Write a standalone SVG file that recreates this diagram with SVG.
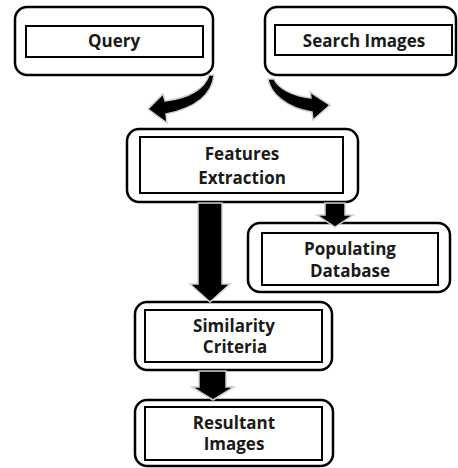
<svg xmlns="http://www.w3.org/2000/svg" width="458" height="468" viewBox="0 0 458 468">
<style>
.outer{fill:#fff;stroke:#000;stroke-width:2.5}
.inner{fill:#fff;stroke:#000;stroke-width:2}
.t{font-family:"Open Sans",Lato,"Liberation Sans",sans-serif;font-weight:bold;font-size:17px;fill:#1a1a1a;text-anchor:middle}
.arr{fill:#000;stroke:#cfcfcf;stroke-width:1.5;stroke-linejoin:miter}
</style>
<rect width="458" height="468" fill="#fff"/>
<g id="query">
<rect class="outer" x="15" y="7" width="198" height="68" rx="12"/>
<rect class="inner" x="26" y="26" width="177" height="31"/>
<text class="t" x="114" y="47">Query</text>
</g>
<g id="search-images">
<rect class="outer" x="265" y="7" width="191" height="68" rx="12"/>
<rect class="inner" x="275" y="25" width="177" height="30"/>
<text class="t" x="364" y="47">Search Images</text>
</g>
<g id="features-extraction">
<rect class="outer" x="127" y="129" width="231" height="73" rx="12"/>
<rect class="inner" x="140" y="137" width="203" height="56"/>
<text class="t" x="242" y="160">Features</text>
<text class="t" x="242" y="184">Extraction</text>
</g>
<g id="populating-database">
<rect class="outer" x="248" y="223" width="202" height="69" rx="12"/>
<rect class="inner" x="262" y="233" width="176" height="52"/>
<text class="t" x="350" y="255">Populating</text>
<text class="t" x="350" y="277">Database</text>
</g>
<g id="similarity-criteria">
<rect class="outer" x="135" y="302" width="197" height="68" rx="12"/>
<rect class="inner" x="145" y="310" width="177" height="52"/>
<text class="t" x="234" y="332">Similarity</text>
<text class="t" x="235" y="353">Criteria</text>
</g>
<g id="resultant-images">
<rect class="outer" x="135" y="400" width="198" height="66" rx="12"/>
<rect class="inner" x="145" y="407" width="177" height="53"/>
<text class="t" x="234" y="429">Resultant</text>
<text class="t" x="234" y="450">Images</text>
</g>
<g id="connectors">
<path class="arr" d="M214 75 C212 95 195 108 166 114 L167 123 L148 109 L163 94 L165 101 C190 98 205 88 209 75 Z"/>
<path class="arr" d="M268 79 C270 92 285 108 312 112 L313 120 L330 105 L310 92 L311 98 C292 96 278 88 274 79 Z"/>
<path class="arr" d="M198 203 H222 V284 H230 L210 302 L190 284 H198 Z"/>
<path class="arr" d="M325 203 H345 V215 H353 L335 227 L317 215 H325 Z"/>
<path class="arr" d="M199 371 H226 V387 H234 L213 400 L192 387 H199 Z"/>
</g>
</svg>
